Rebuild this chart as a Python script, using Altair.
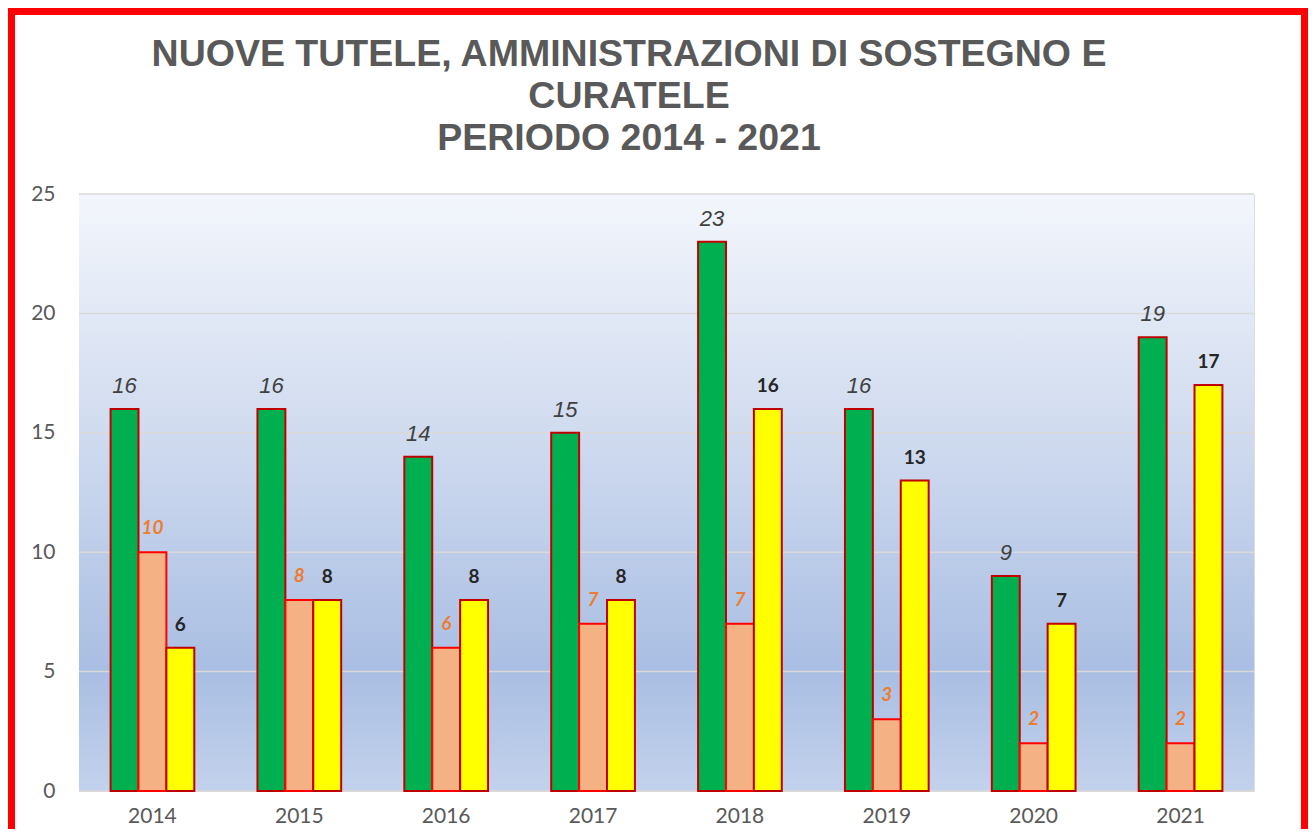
import altair as alt
import pandas as pd

years = ["2014", "2015", "2016", "2017", "2018", "2019", "2020", "2021"]
tutele = [16, 16, 14, 15, 23, 16, 9, 19]
curatele = [10, 8, 6, 7, 7, 3, 2, 2]
amministrazioni = [6, 8, 8, 8, 16, 13, 7, 17]
series = ["Tutele", "Curatele", "Amministrazioni di sostegno"]
fills = ["#00b050", "#f4b183", "#ffff00"]
strokes = ["#c00000", "#ff0000", "#c00000"]
y_ticks = [0, 5, 10, 15, 20, 25]
title_lines = ["NUOVE TUTELE, AMMINISTRAZIONI DI SOSTEGNO E", "CURATELE", "PERIODO 2014 - 2021"]

rows = []
for i, yr in enumerate(years):
    for s, vals in zip(series, [tutele, curatele, amministrazioni]):
        rows.append({"anno": yr, "serie": s, "valore": vals[i]})
df = pd.DataFrame(rows)
grid_df = pd.DataFrame({"valore": y_ticks})
one = pd.DataFrame({"k": [0]})

W, H = 1175, 597
PAD_L, PAD_T = 71, 186
TOTAL_W, TOTAL_H = 1300, 821

x_axis = alt.Axis(title=None, labelAngle=0, ticks=False, domain=False, labelFont="Lato",
                  labelFontSize=21, labelColor="#595959", labelPadding=14)
y_axis = alt.Axis(title=None, values=y_ticks, grid=False, ticks=False, domain=False, labelFont="Lato",
                  labelFontSize=21, labelColor="#595959", labelPadding=24)
x_scale = alt.Scale(paddingInner=0.43, paddingOuter=0.215)
y_scale = alt.Scale(domain=[0, 25], nice=False)

x_enc = alt.X("anno:N", sort=years, scale=x_scale, axis=x_axis)
xo_enc = alt.XOffset("serie:N", sort=series, scale=alt.Scale(domain=series, paddingInner=0, paddingOuter=0))
y_enc = alt.Y("valore:Q", scale=y_scale, axis=y_axis)

gradient = alt.LinearGradient(
    gradient="linear", x1=0, y1=0, x2=0, y2=1,
    stops=[
        alt.GradientStop(color="#f3f6fc", offset=0),
        alt.GradientStop(color="#d0dbef", offset=0.4),
        alt.GradientStop(color="#a9bee3", offset=0.8),
        alt.GradientStop(color="#c3d2ec", offset=1),
    ],
)

background = alt.Chart(one).mark_rect(color=gradient).encode(
    x=alt.value(0), x2=alt.value(W), y=alt.value(0), y2=alt.value(H)
)

grid = alt.Chart(grid_df).mark_rule(color="#d9d9d9", strokeWidth=1.5).encode(
    y=y_enc, x=alt.value(0), x2=alt.value(W)
)

bars = alt.Chart(df).mark_bar(strokeWidth=2).encode(
    x=x_enc,
    xOffset=xo_enc,
    y=y_enc,
    fill=alt.Fill("serie:N", scale=alt.Scale(domain=series, range=fills), legend=None),
    stroke=alt.Stroke("serie:N", scale=alt.Scale(domain=series, range=strokes), legend=None),
)

lab_green = alt.Chart(df).transform_filter(alt.datum.serie == series[0]).mark_text(
    font="Liberation Sans", fontStyle="italic", fontSize=22, color="#404040",
    baseline="alphabetic", dy=-16
).encode(x=x_enc, xOffset=xo_enc, y=y_enc, text="valore:Q")

lab_salmon = alt.Chart(df).transform_filter(alt.datum.serie == series[1]).mark_text(
    font="Lato", fontStyle="italic", fontWeight="bold", fontSize=19, color="#ed7d31",
    baseline="alphabetic", dy=-18
).encode(x=x_enc, xOffset=xo_enc, y=y_enc, text="valore:Q")

lab_yellow = alt.Chart(df).transform_filter(alt.datum.serie == series[2]).mark_text(
    font="Lato", fontWeight="bold", fontSize=19, color="#262626",
    baseline="alphabetic", dy=-17
).encode(x=x_enc, xOffset=xo_enc, y=y_enc, text="valore:Q")

title = alt.Chart(one).mark_text(
    text=title_lines, font="Liberation Sans", fontSize=37.5, fontWeight="bold", color="#595959",
    lineHeight=42, align="center", baseline="alphabetic"
).encode(x=alt.value(550), y=alt.value(-128))

frame = alt.Chart(one).mark_rect(fill=None, fillOpacity=0, stroke="#ff0000", strokeWidth=7).encode(
    x=alt.value(-PAD_L + 3.5), x2=alt.value(TOTAL_W - PAD_L - 3.5),
    y=alt.value(-PAD_T + 3.5), y2=alt.value(H + 200)
)

chart = alt.layer(background, grid, bars, lab_green, lab_salmon, lab_yellow, title, frame).properties(
    width=W,
    height=H,
    autosize=alt.AutoSizeParams(type="none"),
    padding={"left": PAD_L, "top": PAD_T, "right": TOTAL_W - PAD_L - W, "bottom": TOTAL_H - PAD_T - H},
).configure_view(stroke=None).configure(background="white")

chart.save("out.html", embed_options={"renderer": "svg", "actions": False})
